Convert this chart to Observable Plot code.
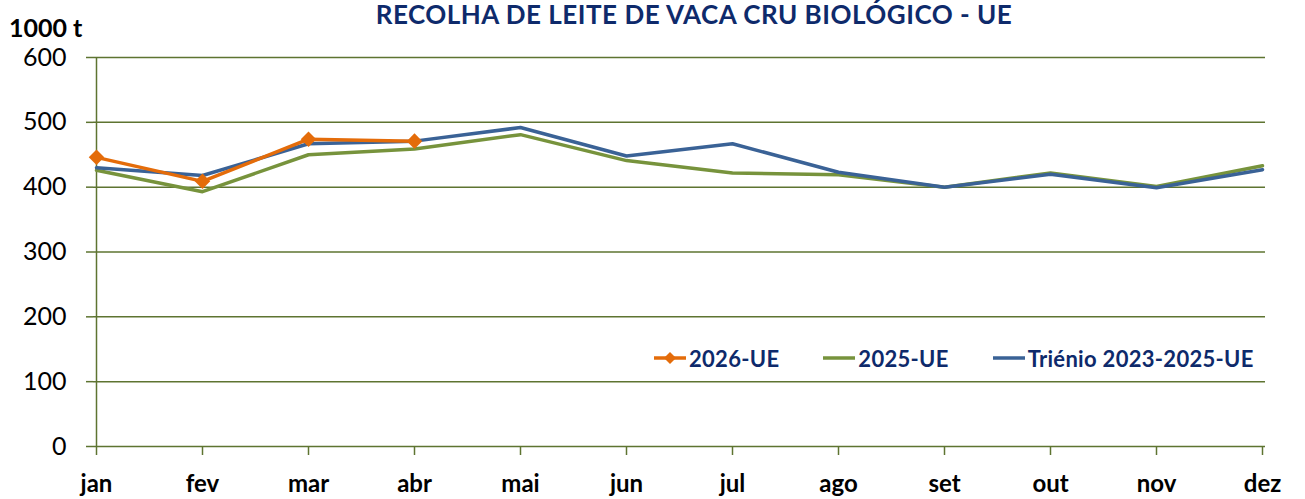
<!DOCTYPE html>
<html>
<head>
<meta charset="utf-8">
<script src="https://cdn.jsdelivr.net/npm/d3@7"></script>
<script src="https://cdn.jsdelivr.net/npm/@observablehq/plot@0.6"></script>
<style>
  html, body { margin: 0; padding: 0; background: #fff; overflow: hidden; }
  #wrap { position: relative; width: 1305px; height: 499px; font-family: Lato, "Open Sans", sans-serif; }
  #title { position: absolute; left: 0; width: 1388px; top: 0px; line-height: 28px; text-align: center; font-weight: bold; font-size: 26px; letter-spacing: 0.5px; color: #0E2A6B; white-space: nowrap; }
  #unit { position: absolute; left: 9px; top: 12px; font-weight: bold; font-size: 25px; color: #000; }
  #legend { position: absolute; left: 654px; top: 343px; display: flex; align-items: center; font-weight: bold; font-size: 22px; letter-spacing: 0.3px; color: #0E2A6B; white-space: nowrap; }
  #legend .item { display: flex; align-items: center; margin-right: 44px; }
  #legend svg { margin-right: 3px; }
</style>
</head>
<body>
<div id="wrap">
  <div id="chart"></div>
  <div id="title">RECOLHA DE LEITE DE VACA CRU BIOLÓGICO - UE</div>
  <div id="unit">1000 t</div>
  <div id="legend"></div>
</div>
<script>
const months = ["jan","fev","mar","abr","mai","jun","jul","ago","set","out","nov","dez"];
const yTicks = [0,100,200,300,400,500,600];
const s2026 = [446, 409, 474, 471];
const s2025 = [426, 393, 450, 459, 481, 441, 422, 419, 400, 422, 401, 433];
const sTrienio = [430, 418, 467, 471, 492, 448, 467, 423, 400, 420, 399, 427];
const seriesNames = ["2026-UE", "2025-UE", "Triénio 2023-2025-UE"];
const colors = ["#E46C0A", "#77933C", "#3A6296"];
const gridColor = "#5E7431";

const rows = (vals, name) => vals.map((v, i) => ({month: months[i], value: v, series: name}));
const d2026 = rows(s2026, seriesNames[0]);
const d2025 = rows(s2025, seriesNames[1]);
const dTri = rows(sTrienio, seriesNames[2]);

const chart = Plot.plot({
  width: 1305,
  height: 499,
  marginLeft: 93,
  marginRight: 40,
  marginTop: 57,
  marginBottom: 53,
  style: {fontFamily: "Lato, 'Open Sans', sans-serif", color: "#000", background: "#fff"},
  x: {type: "point", domain: months, padding: 0},
  y: {domain: [0, 600]},
  marks: [
    Plot.ruleY(yTicks, {stroke: gridColor, strokeWidth: 1.5}),
    Plot.ruleX([months[0]], {stroke: gridColor, strokeWidth: 1.5}),
    Plot.axisY({ticks: yTicks, tickSize: 7, stroke: gridColor, strokeWidth: 1.5, fill: "#000", fontSize: 25, tickPadding: 20, label: null}),
    Plot.axisX({tickSize: 9, stroke: gridColor, strokeWidth: 1.5, fill: "#000", fontSize: 24, fontWeight: "bold", tickPadding: 19, label: null}),
    Plot.line(d2025, {x: "month", y: "value", stroke: colors[1], strokeWidth: 3.5}),
    Plot.line(dTri, {x: "month", y: "value", stroke: colors[2], strokeWidth: 3.5}),
    Plot.line(d2026, {x: "month", y: "value", stroke: colors[0], strokeWidth: 3.5}),
    Plot.dot(d2026, {x: "month", y: "value", symbol: "diamond2", r: 7, fill: colors[0], stroke: "none"})
  ]
});
document.getElementById("chart").appendChild(chart);

const legend = document.getElementById("legend");
seriesNames.forEach((name, i) => {
  const item = document.createElement("div");
  item.className = "item";
  const marker = i === 0 ? '<path d="M16,9 L22,15 L16,21 L10,15 Z" fill="' + colors[0] + '"/>' : '';
  item.innerHTML = '<svg width="32" height="30"><line x1="0" y1="15" x2="32" y2="15" stroke="' + colors[i] + '" stroke-width="3.5"/>' + marker + '</svg><span>' + name + '</span>';
  legend.appendChild(item);
});
</script>
</body>
</html>
